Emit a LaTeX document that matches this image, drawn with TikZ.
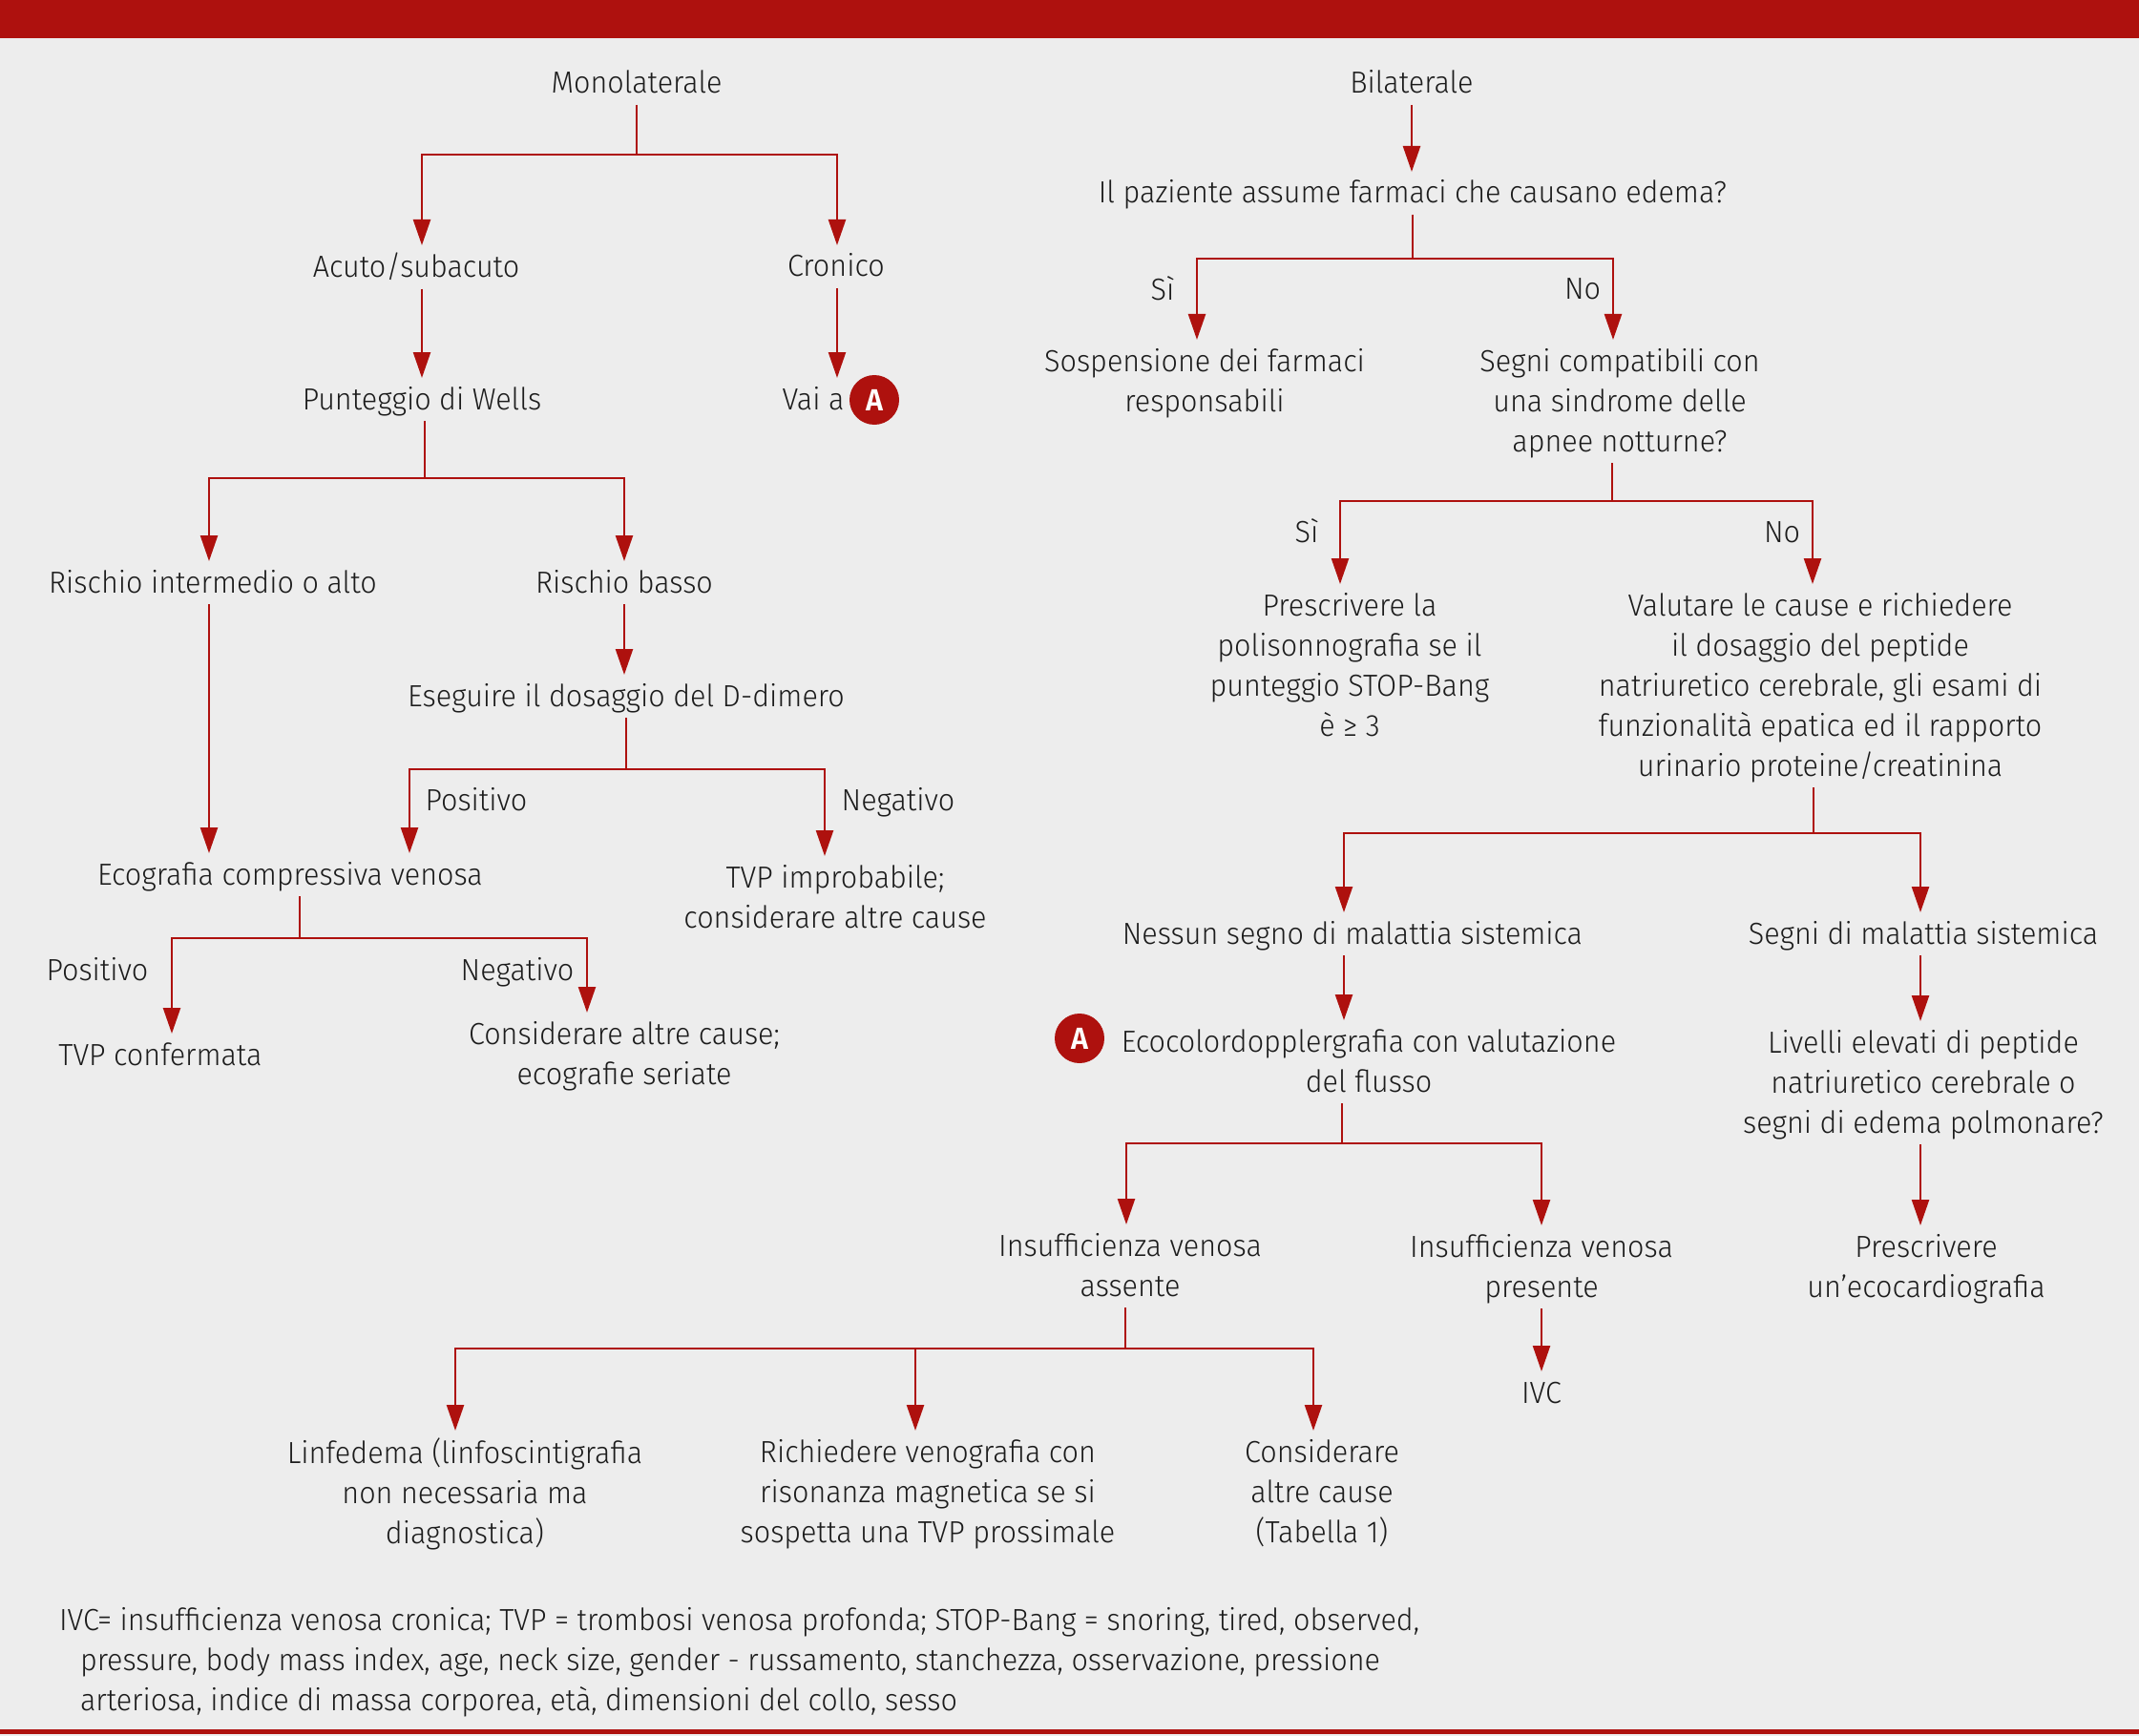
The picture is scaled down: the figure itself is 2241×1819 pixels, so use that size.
\documentclass[tikz,border=0pt]{standalone}
\usepackage{fontspec}
\setmainfont{Fira Sans}[UprightFont={* Light}, FakeStretch=0.955]
\usetikzlibrary{arrows.meta}
\definecolor{bg}{RGB}{237,237,237}
\definecolor{myred}{RGB}{174,17,14}
\definecolor{ink}{RGB}{28,28,28}
\newcommand{\ms}{\rule[-9pt]{0pt}{34pt}}
\begin{document}
\begin{tikzpicture}[x=1pt,y=-1pt,
  txt/.style={inner sep=0pt, outer sep=0pt, anchor=north, align=center, text=ink, font=\fontsize{32}{42}\selectfont},
  circ/.style={circle, fill=myred, minimum size=52pt, inner sep=0pt, text=white, font=\fontsize{32}{32}\selectfont\bfseries},
  ln/.style={draw=myred, line width=2.4pt},
  arr/.style={ln, -{Triangle[length=27pt,width=18pt]}, shorten <=3pt, shorten >=8pt}]
\useasboundingbox (0,0) rectangle (2241,1819);
\fill[bg] (0,0) rectangle (2241,1819);
\fill[myred] (0,0) rectangle (2241,40);
\fill[myred] (0,1812) rectangle (2241,1817);

% ---------- left tree ----------
\node[txt] (mono) at (667,73) {\ms Monolaterale};
\node[txt] (acuto) at (436,265) {\ms Acuto/subacuto};
\node[txt] (cronico) at (876,265) {\ms Cronico};
\node[txt] (wells) at (442,404) {\ms Punteggio di Wells};
\node[txt] (vai) at (852,404) {\ms Vai a};
\node[circ] (A1) at (916,419) {A};
\node[txt] (rischioA) at (223,596) {\ms Rischio intermedio o alto};
\node[txt] (rischioB) at (654,596) {\ms Rischio basso};
\node[txt] (ddimer) at (656,715) {\ms Eseguire il dosaggio del D-dimero};
\node[txt] (pos1) at (499,824) {\ms Positivo};
\node[txt] (neg1) at (941,824) {\ms Negativo};
\node[txt] (ecocomp) at (304,902) {\ms Ecografia compressiva venosa};
\node[txt] (tvpimp) at (875,905) {\ms TVP improbabile;\\\ms considerare altre cause};
\node[txt] (pos2) at (102,1002) {\ms Positivo};
\node[txt] (neg2) at (542,1002) {\ms Negativo};
\node[txt] (tvpconf) at (168,1091) {\ms TVP confermata};
\node[txt] (consider) at (654,1069) {\ms Considerare altre cause;\\\ms ecografie seriate};

% ---------- right tree ----------
\node[txt] (bil) at (1479,73) {\ms Bilaterale};
\node[txt] (paz) at (1480,188) {\ms Il paziente assume farmaci che causano edema?};
\node[txt] (si1) at (1218,289) {\ms Sì};
\node[txt] (no1) at (1658,289) {\ms No};
\node[txt] (sosp) at (1262,364) {\ms Sospensione dei farmaci\\\ms responsabili};
\node[txt] (segni) at (1697,364) {\ms Segni compatibili con\\\ms una sindrome delle\\\ms apnee notturne?};
\node[txt] (si2) at (1369,543) {\ms Sì};
\node[txt] (no2) at (1867,543) {\ms No};
\node[txt] (prescr) at (1414,620) {\ms Prescrivere la\\\ms polisonnografia se il\\\ms punteggio STOP-Bang\\\ms è ≥ 3};
\node[txt] (valutare) at (1907,620) {\ms Valutare le cause e richiedere\\\ms il dosaggio del peptide\\\ms natriuretico cerebrale, gli esami di\\\ms funzionalità epatica ed il rapporto\\\ms urinario proteine/creatinina};
\node[txt] (nessun) at (1417,964) {\ms Nessun segno di malattia sistemica};
\node[txt] (segnimal) at (2015,964) {\ms Segni di malattia sistemica};
\node[circ] (A2) at (1131,1088) {A};
\node[txt] (eco) at (1434,1077) {\ms Ecocolordopplergrafia con valutazione\\\ms del flusso};
\node[txt] (livelli) at (2015,1078) {\ms Livelli elevati di peptide\\\ms natriuretico cerebrale o\\\ms segni di edema polmonare?};
\node[txt] (ivass) at (1184,1291) {\ms Insufficienza venosa\\\ms assente};
\node[txt] (ivpres) at (1615,1292) {\ms Insufficienza venosa\\\ms presente};
\node[txt] (prescr2) at (2018,1292) {\ms Prescrivere\\\ms un’ecocardiografia};
\node[txt] (ivc) at (1615,1445) {\ms IVC};
\node[txt] (linf) at (487,1507) {\ms Linfedema (linfoscintigrafia\\\ms non necessaria ma\\\ms diagnostica)};
\node[txt] (rich) at (972,1507) {\ms Richiedere venografia con\\\ms risonanza magnetica se si\\\ms sospetta una TVP prossimale};
\node[txt] (cons2) at (1385,1507) {\ms Considerare\\\ms altre cause\\\ms (Tabella 1)};

% footnote
\node[txt, anchor=north west, align=left] (note) at (62,1683) {\ms IVC= insufficienza venosa cronica; TVP = trombosi venosa profonda; STOP-Bang = snoring, tired, observed,\\\hspace*{22pt}\ms pressure, body mass index, age, neck size, gender - russamento, stanchezza, osservazione, pressione\\\hspace*{22pt}\ms arteriosa, indice di massa corporea, età, dimensioni del collo, sesso};

% ---------- junctions ----------
\coordinate (jmL) at (442,162);  \coordinate (jmR) at (877,162);
\coordinate (jwL) at (219,501);  \coordinate (jwR) at (654,501);
\coordinate (jdL) at (429,806);  \coordinate (jdR) at (864,806);
\coordinate (jeL) at (180,983);  \coordinate (jeR) at (615,983);
\coordinate (jpL) at (1254,271); \coordinate (jpR) at (1690,271);
\coordinate (jsL) at (1404,525); \coordinate (jsR) at (1899,525);
\coordinate (jvL) at (1408,873); \coordinate (jvR) at (2012,873);
\coordinate (jcL) at (1180,1198); \coordinate (jcR) at (1615,1198);
\coordinate (jaL) at (477,1413); \coordinate (jaM) at (959,1413); \coordinate (jaR) at (1376,1413);

% ---------- connectors: left ----------
\draw[arr] (mono.south) |- (jmL) -- (jmL |- acuto.north);
\draw[arr] (mono.south) |- (jmR) -- (jmR |- cronico.north);
\draw[arr] (acuto.south -| jmL) -- (jmL |- wells.north);
\draw[arr] (cronico.south -| jmR) -- (jmR |- vai.north);
\draw[arr] ([xshift=3pt]wells.south) |- (jwL) -- (jwL |- rischioA.north);
\draw[arr] ([xshift=3pt]wells.south) |- (jwR) -- (jwR |- rischioB.north);
\draw[arr] (rischioA.south -| jwL) -- (jwL |- ecocomp.north);
\draw[arr] (rischioB.south -| jwR) -- (jwR |- ddimer.north);
\draw[arr] (ddimer.south) |- (jdL) -- (jdL |- ecocomp.north);
\draw[arr] (ddimer.south) |- (jdR) -- (jdR |- tvpimp.north);
\draw[arr] ([xshift=10pt]ecocomp.south) |- (jeL) -- (jeL |- tvpconf.north);
\draw[arr] ([xshift=10pt]ecocomp.south) |- (jeR) -- (jeR |- consider.north);

% ---------- connectors: right ----------
\draw[arr] (bil.south) -- (bil.south |- paz.north);
\draw[arr] (paz.south) |- (jpL) -- (jpL |- sosp.north);
\draw[arr] (paz.south) |- (jpR) -- (jpR |- segni.north);
\draw[arr] ([xshift=-8pt]segni.south) |- (jsL) -- (jsL |- prescr.north);
\draw[arr] ([xshift=-8pt]segni.south) |- (jsR) -- (jsR |- valutare.north);
\draw[arr] ([xshift=-7pt]valutare.south) |- (jvL) -- (jvL |- nessun.north);
\draw[arr] ([xshift=-7pt]valutare.south) |- (jvR) -- (jvR |- segnimal.north);
\draw[arr] (nessun.south -| jvL) -- (jvL |- eco.north);
\draw[arr] (segnimal.south -| jvR) -- (jvR |- livelli.north);
\draw[arr] (livelli.south -| jvR) -- (jvR |- prescr2.north);
\draw[arr] ([xshift=-28pt]eco.south) |- (jcL) -- (jcL |- ivass.north);
\draw[arr] ([xshift=-28pt]eco.south) |- (jcR) -- (jcR |- ivpres.north);
\draw[arr] (ivpres.south -| jcR) -- (jcR |- ivc.north);
\draw[arr] ([xshift=-5pt]ivass.south) |- (jaL) -- (jaL |- linf.north);
\draw[arr] ([xshift=-5pt]ivass.south) |- (jaM) -- (jaM |- rich.north);
\draw[arr] ([xshift=-5pt]ivass.south) |- (jaR) -- (jaR |- cons2.north);
\end{tikzpicture}
\end{document}
